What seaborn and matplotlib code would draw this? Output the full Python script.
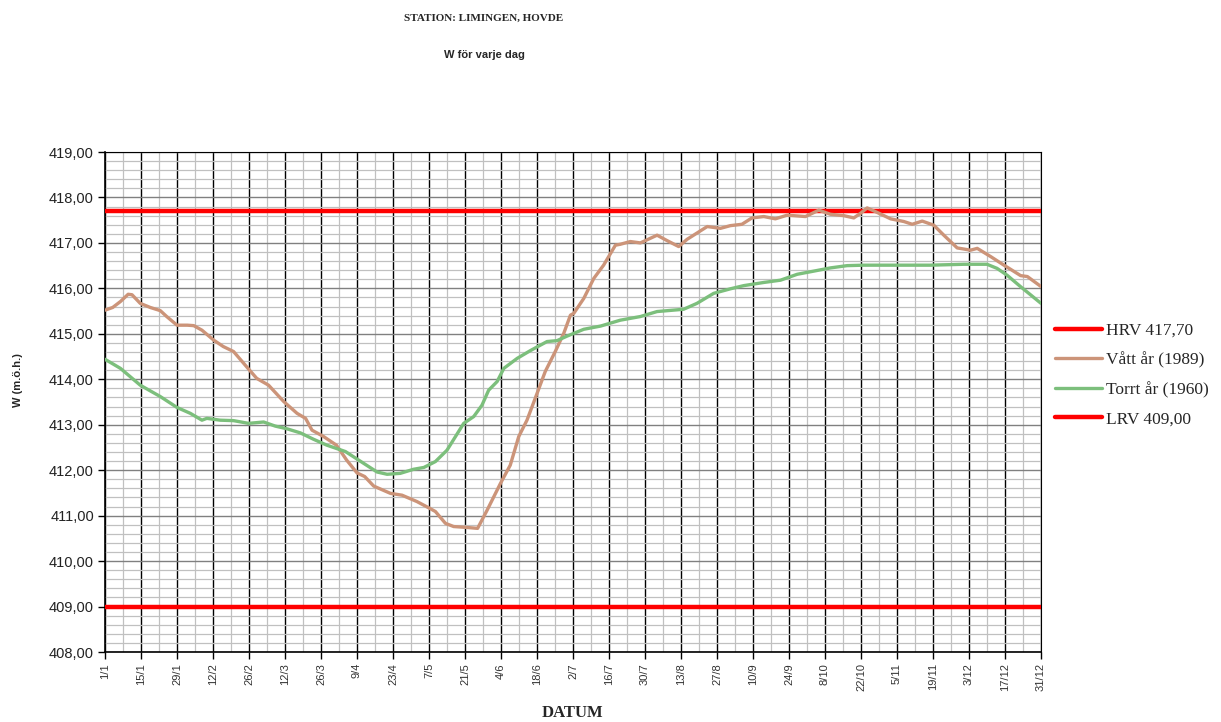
import numpy as np
import pandas as pd
import matplotlib
matplotlib.use("Agg")
import matplotlib.pyplot as plt
import seaborn as sns
from matplotlib.ticker import MultipleLocator, FuncFormatter

# ---- data ----
wet_days = [0, 3, 6, 9, 10.5, 13.7, 17.6, 21.5, 24, 28, 32, 34.5, 37.7, 42.3, 46, 50, 55, 59, 63.6,
            69.5, 74.7, 78, 80.5, 85, 90, 94, 98, 101, 104.5, 111, 115.5, 121.3, 126.3, 128.5, 132.4,
            135.6, 140.8, 144.9, 148.6, 153.8, 157.6, 160.9, 164.1, 167.3, 171.2, 175.1, 178.4, 181,
            182.3, 186.2, 190.1, 193.9, 198.5, 200.4, 204.3, 208.2, 214.7, 218.6, 223.1, 226.4, 234.2,
            239.3, 243.2, 247.7, 251.6, 256.2, 260.7, 265.3, 272.4, 277.6, 282.1, 287.3, 291.2, 293.8,
            296.4, 300.3, 305.5, 310.7, 313.9, 317.8, 322.3, 326.2, 331.4, 336.6, 339.2, 344.4, 349.6,
            356.1, 358.7, 364]
wet_vals = [415.52, 415.58, 415.71, 415.87, 415.86, 415.67, 415.58, 415.51, 415.38, 415.19, 415.19,
            415.18, 415.08, 414.86, 414.72, 414.61, 414.28, 414.02, 413.87, 413.51, 413.25, 413.14,
            412.88, 412.74, 412.55, 412.22, 411.94, 411.86, 411.65, 411.49, 411.45, 411.31, 411.16,
            411.09, 410.83, 410.76, 410.74, 410.72, 411.12, 411.71, 412.11, 412.74, 413.10, 413.58,
            414.17, 414.61, 415.01, 415.41, 415.45, 415.78, 416.22, 416.51, 416.95, 416.97, 417.03,
            417.00, 417.17, 417.05, 416.92, 417.08, 417.36, 417.32, 417.38, 417.41, 417.55, 417.58,
            417.53, 417.61, 417.58, 417.72, 417.63, 417.60, 417.55, 417.65, 417.77, 417.67, 417.53,
            417.47, 417.41, 417.48, 417.39, 417.17, 416.89, 416.84, 416.88, 416.70, 416.51, 416.28,
            416.26, 416.04]

dry_days = [0, 6, 13.7, 21.5, 28, 33.2, 37.7, 39.6, 44.8, 50, 55.8, 61.7, 66.2, 70.8, 76, 81.1, 86.3,
            93.5, 100.6, 105.8, 109.7, 114.8, 120, 124, 128.5, 133, 139.5, 143.4, 146.6, 149.2, 152.5,
            155.1, 160.3, 165.4, 171.9, 175.8, 179.7, 186.2, 192.7, 200.4, 208.2, 214.7, 225, 230.2,
            236.7, 243.2, 248.4, 256.2, 262.7, 269.2, 275.7, 282.1, 288.6, 295.1, 308.1, 321, 334,
            343, 346.9, 350.8, 356, 359.9, 364]
dry_vals = [414.44, 414.24, 413.87, 413.62, 413.38, 413.25, 413.10, 413.14, 413.10, 413.09, 413.03,
            413.06, 412.97, 412.91, 412.82, 412.68, 412.55, 412.41, 412.15, 411.96, 411.91, 411.93,
            412.02, 412.06, 412.19, 412.44, 413.03, 413.18, 413.43, 413.76, 413.95, 414.24, 414.46,
            414.63, 414.83, 414.85, 414.95, 415.10, 415.17, 415.30, 415.38, 415.49, 415.54, 415.67,
            415.89, 415.99, 416.06, 416.13, 416.18, 416.31, 416.38, 416.45, 416.50, 416.51, 416.51,
            416.51, 416.53, 416.53, 416.44, 416.29, 416.04, 415.86, 415.67]

hrv_level = 417.70
lrv_level = 409.00
year_span = [0, 364]

tick_days = list(range(0, 365, 14))
tick_labels = ["1/1", "15/1", "29/1", "12/2", "26/2", "12/3", "26/3", "9/4", "23/4", "7/5", "21/5",
               "4/6", "18/6", "2/7", "16/7", "30/7", "13/8", "27/8", "10/9", "24/9", "8/10", "22/10",
               "5/11", "19/11", "3/12", "17/12", "31/12"]

names = ["HRV 417,70", "Vått år (1989)", "Torrt år (1960)", "LRV 409,00"]

# ---- figure ----
sns.set_theme(style="white")
plt.rcParams["font.family"] = ["Liberation Sans", "DejaVu Sans"]

fig = plt.figure(figsize=(12.21, 7.22), dpi=100)
ax = fig.add_axes([105 / 1221, 1 - 652 / 722, (1041 - 105) / 1221, (652 - 152) / 722])

red = "#FF0000"
tan = "#CC9479"
green = "#7CBF7C"

sns.lineplot(x=year_span, y=[hrv_level, hrv_level], ax=ax, color=red, lw=3.2, label=names[0], zorder=3)
sns.lineplot(x=wet_days, y=wet_vals, ax=ax, color=tan, lw=2.4, label=names[1], zorder=4,
             sort=False, estimator=None)
sns.lineplot(x=dry_days, y=dry_vals, ax=ax, color=green, lw=2.4, label=names[2], zorder=4,
             sort=False, estimator=None)
sns.lineplot(x=year_span, y=[lrv_level, lrv_level], ax=ax, color=red, lw=3.2, label=names[3], zorder=3)

ax.set_xlim(0, 364)
ax.set_ylim(408, 419)

ax.xaxis.set_minor_locator(MultipleLocator(7))
ax.yaxis.set_major_locator(MultipleLocator(1))
ax.yaxis.set_minor_locator(MultipleLocator(0.2))

ax.set_xticks(tick_days)
ax.set_xticklabels(tick_labels, rotation=90, fontsize=8, color="#333333")
ax.yaxis.set_major_formatter(FuncFormatter(lambda v, p: f"{v:.2f}".replace(".", ",")))
for t in ax.get_yticklabels():
    t.set_fontsize(10.5)
    t.set_color("#222222")

ax.grid(which="minor", axis="both", color="#C0C0C0", lw=0.9, zorder=0)
ax.grid(which="major", axis="y", color="#808080", lw=1.0, zorder=1)
ax.grid(which="major", axis="x", color="#000000", lw=1.0, zorder=1)
ax.set_axisbelow(True)

ax.tick_params(axis="both", which="major", direction="out", length=5, width=1, color="black",
               bottom=True, left=True, pad=3)
ax.tick_params(axis="both", which="minor", length=0)
for s in ["top", "right"]:
    ax.spines[s].set_visible(True)
    ax.spines[s].set_color("black")
    ax.spines[s].set_linewidth(0.8)
ax.spines["left"].set_color("black")
ax.spines["left"].set_linewidth(1.2)
ax.spines["bottom"].set_color("black")
ax.spines["bottom"].set_linewidth(1.2)

ax.set_xlabel("")
ax.set_ylabel("")

handles, labels = ax.get_legend_handles_labels()
ax.get_legend().remove()
fig.legend(handles, labels, loc="center left", bbox_to_anchor=(1055 / 1221, 1 - 375 / 722),
           frameon=False, prop={"family": "Liberation Serif", "size": 12.5}, handlelength=2.7,
           handletextpad=0.25, labelspacing=0.75, borderaxespad=0, borderpad=0)

fig.text(484 / 1221, 1 - 18 / 722, "STATION: LIMINGEN, HOVDE", ha="center", va="center",
         family="Liberation Serif", fontweight="bold", fontsize=8)
fig.text(484 / 1221, 1 - 55 / 722, "W för varje dag", ha="center", va="center",
         family="Liberation Sans", fontweight="bold", fontsize=8)
fig.text(18 / 1221, 1 - 380 / 722, "W (m.ö.h.)", ha="center", va="center", rotation=90,
         family="Liberation Sans", fontweight="bold", fontsize=8)
fig.text(572 / 1221, 1 - 713 / 722, "DATUM", ha="center", va="center",
         family="Liberation Serif", fontweight="bold", fontsize=12)

fig.savefig("out.png", dpi=100)
